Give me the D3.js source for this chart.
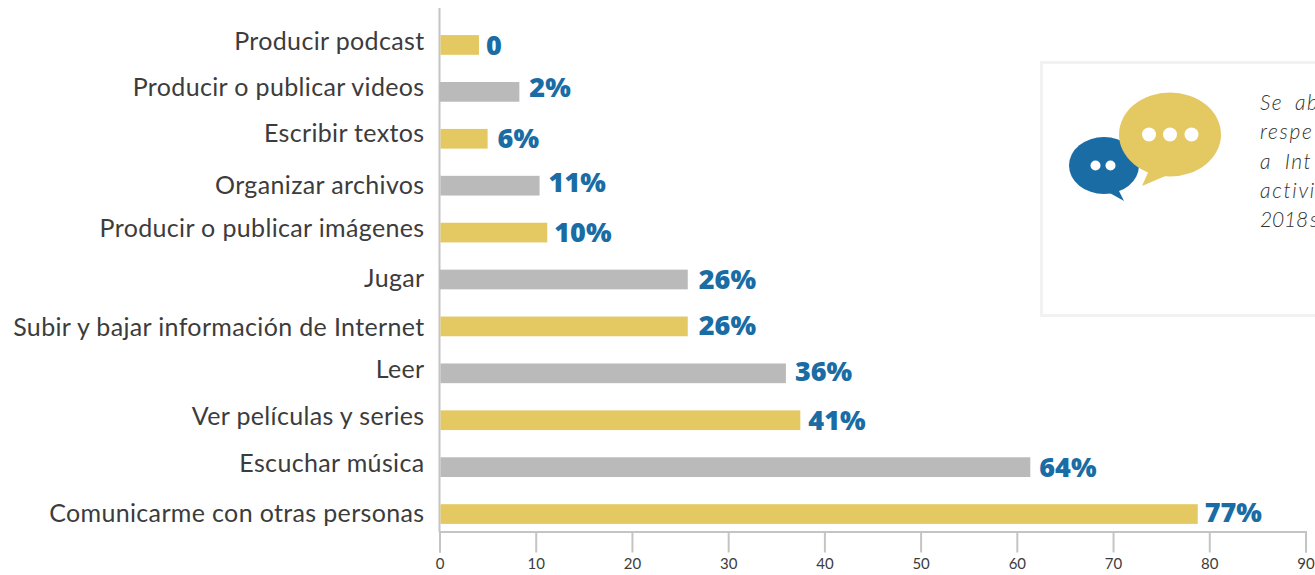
<!DOCTYPE html>
<html><head><meta charset="utf-8">
<script src="https://cdn.jsdelivr.net/npm/d3@7/dist/d3.min.js"></script>
<style>html,body{margin:0;padding:0;background:#fff;overflow:hidden}svg{display:block}</style>
</head><body><svg id="c" width="1315" height="575"></svg>
<script>
const categories=["Producir podcast","Producir o publicar videos","Escribir textos","Organizar archivos","Producir o publicar imágenes","Jugar","Subir y bajar información de Internet","Leer","Ver películas y series","Escuchar música","Comunicarme con otras personas"];
const barValues=[4.1,8.3,5,10.4,11.2,25.8,25.8,36,37.5,61.4,78.8];
const valueLabels=["0","2%","6%","11%","10%","26%","26%","36%","41%","64%","77%"];
const tickValues=[0,10,20,30,40,50,60,70,80,90];
const noteLines=["Se ab","respe","a Int","activi","2018 s"];

const labelNudge=[-4,-5,-6,0,-4,-1,1,-4,-4,-4,-1];
const valueNudge=[0,-5,0,-3,0,0,-1,-2,0,0,-2];
const valueGap=[7,10,10,9,7,11,11,9,8,9,7];
const barStart=[1,0,1,1,1,0,1,1,1,1,1];
const noteTracking=[1.5,1.7,1.5,1.7,-0.2];
const noteWordGap=[5,0,6,0,-3];

const svg=d3.select("#c");
const x=d3.scaleLinear().domain([0,90]).range([439.5,1305.5]);
const y=d3.scaleBand().domain(categories).range([21.5,537.5]).paddingInner(0.58).paddingOuter(0.29);
const FONT="Lato,'Noto Sans',sans-serif";
const yellow="#e4c862",grey="#b9bab9",blue="#1a6ca5",axisC="#c4c4c4",ink="#3c3c3c";

// note card
svg.append("rect").attr("x",1041.5).attr("y",62.5).attr("width",290).attr("height",253)
  .attr("fill","#fff").attr("stroke","#f2f2f3").attr("stroke-width",3);

// axes
const axis=d3.axisBottom(x).tickValues(tickValues).tickSize(21).tickPadding(6).tickFormat(d3.format("d"));
const gx=svg.append("g").attr("transform","translate(0,531.5)").call(axis);
gx.select(".domain").attr("stroke",axisC).attr("stroke-width",2);
gx.selectAll(".tick line").attr("stroke",axisC).attr("stroke-width",2);
gx.selectAll(".tick text").attr("fill",ink).attr("font-family",FONT).attr("font-size",15);
svg.append("line").attr("x1",439.5).attr("x2",439.5).attr("y1",8).attr("y2",532)
  .attr("stroke",axisC).attr("stroke-width",2);

// bars
svg.append("g").selectAll("rect").data(categories).join("rect")
  .attr("x",(d,i)=>x(0)+barStart[i])
  .attr("y",d=>y(d))
  .attr("width",(d,i)=>x(barValues[i])-x(0)-barStart[i])
  .attr("height",y.bandwidth())
  .attr("fill",(d,i)=>i%2===0?yellow:grey);

// category labels
svg.append("g").selectAll("text").data(categories).join("text")
  .attr("x",424.5)
  .attr("y",(d,i)=>y(d)+y.bandwidth()/2+labelNudge[i])
  .attr("dy","0.35em")
  .attr("text-anchor","end")
  .attr("font-family",FONT).attr("font-size",25).attr("letter-spacing","0.35px")
  .attr("fill",ink)
  .text(d=>d);

// value labels
svg.append("g").selectAll("text").data(valueLabels).join("text")
  .attr("x",(d,i)=>x(barValues[i])+valueGap[i])
  .attr("y",(d,i)=>y(categories[i])+y.bandwidth()/2+valueNudge[i])
  .attr("dy","0.36em")
  .attr("font-family","'Open Sans','Noto Sans',sans-serif").attr("font-weight",800).attr("font-size",27)
  .attr("fill",blue)
  .text(d=>d);

// speech bubbles
const icon=svg.append("g");
icon.append("ellipse").attr("cx",1104).attr("cy",165.5).attr("rx",35).attr("ry",28.5).attr("fill",blue);
icon.append("path").attr("d","M1108,192 L1124,201 L1117,187 Z").attr("fill",blue);
icon.selectAll(".d2").data([1095.5,1110.5]).join("circle").attr("class","d2").attr("cx",d=>d).attr("cy",165.5).attr("r",5).attr("fill","#fff");
icon.append("path").attr("d","M1146,172 L1137,190 L1172,178 Z").attr("fill","#fff");
icon.append("ellipse").attr("cx",1170).attr("cy",134.5).attr("rx",51).attr("ry",42).attr("fill",yellow);
icon.append("path").attr("d","M1150,168 L1142,186 L1170,174 Z").attr("fill",yellow);
icon.selectAll(".d3").data([1149,1170,1191.5]).join("circle").attr("class","d3").attr("cx",d=>d).attr("cy",134.5).attr("r",7).attr("fill","#fff");

// note text
svg.append("g").selectAll("text").data(noteLines).join("text")
  .attr("x",1260).attr("y",(d,i)=>110+i*29.3)
  .attr("font-family",FONT).attr("font-style","italic").attr("font-weight",300).attr("font-size",21)
  .attr("letter-spacing",(d,i)=>noteTracking[i]+"px").attr("word-spacing",(d,i)=>noteWordGap[i]+"px")
  .attr("fill","#333")
  .text(d=>d);
</script></body></html>
